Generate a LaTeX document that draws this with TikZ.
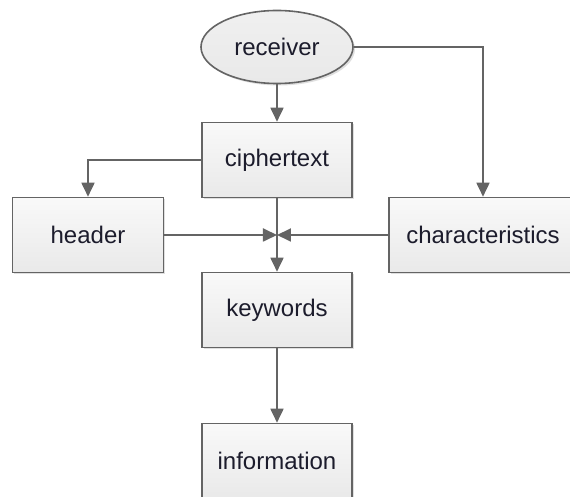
\documentclass[tikz,border=0pt]{standalone}
\usepackage{fontspec}
\setmainfont{Liberation Sans}
\usetikzlibrary{shapes.geometric,arrows.meta,shadows}
\definecolor{linegray}{HTML}{646464}
\definecolor{boxtop}{HTML}{F9F9F9}
\definecolor{boxbot}{HTML}{E9E9E9}
\definecolor{textdark}{HTML}{1C1C2C}

\begin{document}
\begin{tikzpicture}[x=0.5pt,y=-0.5pt,
  box/.style={draw=linegray,line width=0.8pt,top color=boxtop,bottom color=boxbot,
    minimum width=75pt,minimum height=37.5pt,inner sep=0pt,text=textdark,
    font=\fontsize{12}{14}\selectfont,
    drop shadow={shadow xshift=1pt,shadow yshift=-1pt,opacity=0.25}},
  oval/.style={box,ellipse,minimum width=76pt,minimum height=36.5pt,
    top color=boxbot!70!white,bottom color=boxbot},
  conn/.style={draw=linegray,line width=0.9pt,-{Triangle[length=7pt,width=6.5pt]}}]
%Fix frame
\useasboundingbox (0,0) rectangle (570,497);
\clip (0,0) rectangle (570,497);
\fill[white] (0,0) rectangle (570,497);

%Draw nodes
\node[oval] (receiver) at (277,47) {receiver};
\node[box] (ciphertext) at (277,160) {ciphertext};
\node[box,minimum width=75.5pt] (header) at (88,235) {header};
\node[box,minimum width=94pt] (characteristics) at (483,235) {characteristics};
\node[box] (keywords) at (277,310) {keywords};
\node[box] (information) at (277,461) {information};
\coordinate (junc) at (277,235);

%Draw connectors
\draw[conn] (receiver) -- (ciphertext);
\draw[conn] (receiver.east) -| (characteristics.north);
\draw[conn] (ciphertext.west) -| (header.north);
\draw[conn] (ciphertext.south) -- (keywords.north);
\draw[conn] (header.east) -- (junc);
\draw[conn] (characteristics.west) -- (junc);
\draw[conn] (keywords) -- (information);
\end{tikzpicture}
\end{document}
